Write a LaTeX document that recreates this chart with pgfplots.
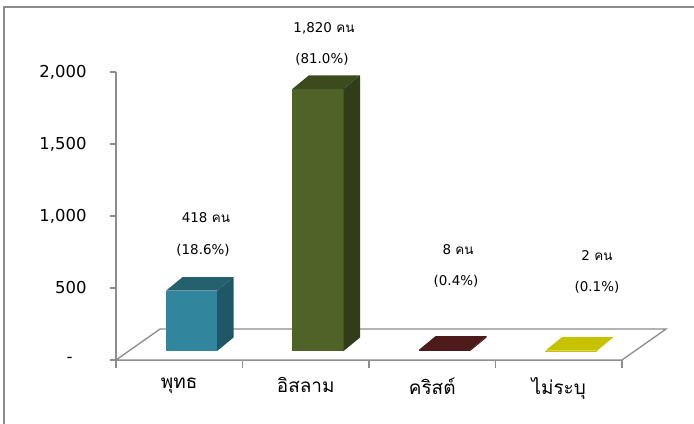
\documentclass[border=0pt]{standalone}
\usepackage{pgfplots}
\usepackage{pgfplotstable}
\pgfplotsset{compat=1.18}
\usepackage{fontspec}
\setmainfont{DejaVu Sans}
\newfontfamily\thaifont[Script=Thai]{Loma}

\definecolor{axgray}{HTML}{8C8C8C}
\definecolor{front0}{HTML}{31859C}
\definecolor{side0}{HTML}{1F5767}
\definecolor{top0}{HTML}{25606F}
\definecolor{front1}{HTML}{4F6228}
\definecolor{side1}{HTML}{303D18}
\definecolor{top1}{HTML}{3C4B1E}
\definecolor{front2}{HTML}{4D1B1B}
\definecolor{side2}{HTML}{3A1414}
\definecolor{top2}{HTML}{4D1B1B}
\definecolor{front3}{HTML}{C6C200}
\definecolor{side3}{HTML}{A9A500}
\definecolor{top3}{HTML}{C6C200}

% religion counts (persons)
\pgfplotstableread{
idx v
0 418
1 1820
2 8
3 2
}\datatable

% unit faces of a box: a = across the bar, b = up to the value, c = into depth
\pgfplotstableread{
a b c
0 0 0
1 0 0
1 1 0
0 1 0
}\frontface
\pgfplotstableread{
a b c
1 0 0
1 0 1
1 1 1
1 1 0
}\sideface
\pgfplotstableread{
a b c
0 1 0
1 1 0
1 1 1
0 1 1
}\topface

\newcommand{\lblfont}{\fontsize{13.5}{16}\selectfont}

\begin{document}
\begin{tikzpicture}
  \path[use as bounding box] (-116bp,-64bp) rectangle (578bp,360bp);
  \draw[axgray, line width=2bp] (-112bp,-64bp) -- (-112bp,352.5bp) -- (578bp,352.5bp);
  \begin{axis}[
    at={(0,0)}, anchor=south west,
    scale only axis,
    width=506bp, height=288bp,
    clip=false,
    xmin=-0.5, xmax=3.5,
    ymin=0, ymax=2000,
    axis x line*=bottom,
    axis y line*=left,
    axis line style={draw=axgray, line width=1.5bp},
    tick align=outside,
    major tick length=6bp,
    minor tick length=8bp,
    tick style={draw=axgray, line width=1.3bp},
    every major x tick/.append style={draw=none},
    xtick={0,1,2,3},
    minor xtick={-0.5,0.5,1.5,2.5,3.5},
    xticklabels={พุทธ, อิสลาม, คริสต์, ไม่ระบุ},
    xticklabel style={font=\thaifont\fontsize{19}{21}\selectfont, yshift=-8bp},
    ytick={0,500,1000,1500,2000},
    yticklabels={{-\rule{14bp}{0pt}},500,{1,000},{1,500},{2,000}},
    yticklabel style={font=\fontsize{16.5}{19}\selectfont, xshift=-20bp},
  ]

    % floor
    \addplot[draw=axgray, line width=1.3bp, fill=white] coordinates {
      (-0.5,0) (3.5,0) (3.848,215) (-0.152,215)
    } -- cycle;

    \pgfplotsinvokeforeach{0,...,3}{
      \pgfplotstablegetelem{#1}{v}\of\datatable
      \let\barval\pgfplotsretval
      \addplot[draw=none, fill=front#1] table[
        x expr={#1-0.105+\thisrow{a}*0.405+\thisrow{c}*0.13},
        y expr={63+\thisrow{b}*\barval+\thisrow{c}*94}] {\frontface} -- cycle;
      \addplot[draw=none, fill=side#1] table[
        x expr={#1-0.105+\thisrow{a}*0.405+\thisrow{c}*0.13},
        y expr={63+\thisrow{b}*\barval+\thisrow{c}*94}] {\sideface} -- cycle;
      \addplot[draw=none, fill=top#1] table[
        x expr={#1-0.105+\thisrow{a}*0.405+\thisrow{c}*0.13},
        y expr={63+\thisrow{b}*\barval+\thisrow{c}*94}] {\topface} -- cycle;
    }

    % data labels
    \node[font=\lblfont] at (axis cs:0.211,986) {418 {\thaifont คน}};
    \node[font=\lblfont] at (axis cs:0.188,764) {(18.6\%)};
    \node[font=\lblfont] at (axis cs:1.144,2306) {1,820 {\thaifont คน}};
    \node[font=\lblfont] at (axis cs:1.128,2090) {(81.0\%)};
    \node[font=\lblfont] at (axis cs:2.204,764) {8 {\thaifont คน}};
    \node[font=\lblfont] at (axis cs:2.188,549) {(0.4\%)};
    \node[font=\lblfont] at (axis cs:3.302,722) {2 {\thaifont คน}};
    \node[font=\lblfont] at (axis cs:3.302,507) {(0.1\%)};
  \end{axis}
\end{tikzpicture}
\end{document}
